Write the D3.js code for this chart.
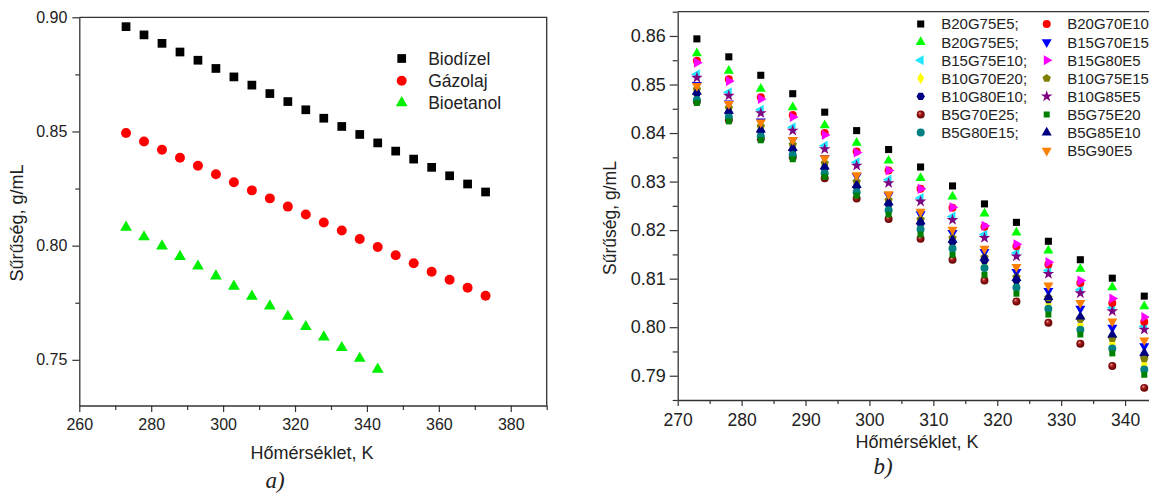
<!DOCTYPE html>
<html>
<head>
<meta charset="utf-8">
<script src="https://cdn.jsdelivr.net/npm/d3@7"></script>
<style>
body { margin: 0; background: #fff; }
text { font-family: "Liberation Sans", Arial, sans-serif; fill: #222; }
.domain { stroke: #333; stroke-width: 1.3; }
.tick line { stroke: #333; stroke-width: 1.2; }
.frame { fill: none; stroke: #333; stroke-width: 1.3; }
</style>
</head>
<body>
<svg id="chart" width="1149" height="493"></svg>
<script>
// ---- data, chart a) ----
const tempsA = [273, 278, 283, 288, 293, 298, 303, 308, 313, 318, 323, 328, 333, 338, 343, 348, 353, 358, 363, 368, 373];
const biodizel = [0.8959, 0.8923, 0.8886, 0.8848, 0.8812, 0.8776, 0.8739, 0.8703, 0.8666, 0.8631, 0.8595,
                  0.8558, 0.8522, 0.8487, 0.8450, 0.8414, 0.8379, 0.8343, 0.8306, 0.8270, 0.8235];
const gazolaj = [0.8493, 0.8456, 0.8420, 0.8385, 0.8350, 0.8313, 0.8278, 0.8242, 0.8207, 0.8171, 0.8136,
                 0.8101, 0.8066, 0.8029, 0.7994, 0.7958, 0.7923, 0.7886, 0.7851, 0.7816, 0.7781];
const bioetanol = [0.8080, 0.8038, 0.7998, 0.7952, 0.7910, 0.7867, 0.7822, 0.7778, 0.7735, 0.7690, 0.7645,
                   0.7600, 0.7553, 0.7506, 0.7458];
const seriesA = ["Biodízel", "Gázolaj", "Bioetanol"];
const xTicksA = [260, 280, 300, 320, 340, 360, 380];
const xMinorA = [270, 290, 310, 330, 350, 370, 390];
const yTicksA = [0.75, 0.80, 0.85, 0.90];
const yMinorA = [0.775, 0.825, 0.875];

// ---- data, chart b) ----
const tempsB = [273, 278, 283, 288, 293, 298, 303, 308, 313, 318, 323, 328, 333, 338, 343];
const seriesB = ["B20G75E5;", "B20G75E5;", "B15G75E10;", "B10G70E20;", "B10G80E10;", "B5G70E25;", "B5G80E15;",
                 "B20G70E10", "B15G70E15", "B15G80E5", "B10G75E15", "B10G85E5", "B5G75E20", "B5G85E10", "B5G90E5"];
const b20g75e5a = [0.8594, 0.8557, 0.8519, 0.8481, 0.8443, 0.8405, 0.8366, 0.8330, 0.8291, 0.8254, 0.8216, 0.8177, 0.8139, 0.8101, 0.8064];
const b20g75e5b = [0.8564, 0.8528, 0.8491, 0.8453, 0.8416, 0.8380, 0.8343, 0.8307, 0.8269, 0.8234, 0.8195, 0.8158, 0.8120, 0.8082, 0.8043];
const b15g75e10 = [0.8521, 0.8484, 0.8448, 0.8412, 0.8374, 0.8340, 0.8304, 0.8266, 0.8228, 0.8191, 0.8153, 0.8117, 0.8077, 0.8040, 0.8002];
const b10g70e20 = [0.8478, 0.8441, 0.8402, 0.8364, 0.8326, 0.8288, 0.8250, 0.8211, 0.8171, 0.8131, 0.8091, 0.8048, 0.8005, 0.7966, 0.7923];
const b10g80e10 = [0.8481, 0.8442, 0.8403, 0.8365, 0.8327, 0.8289, 0.8253, 0.8213, 0.8175, 0.8137, 0.8096, 0.8057, 0.8017, 0.7979, 0.7941];
const b5g70e25  = [0.8465, 0.8427, 0.8388, 0.8350, 0.8307, 0.8265, 0.8223, 0.8182, 0.8139, 0.8096, 0.8053, 0.8009, 0.7966, 0.7920, 0.7875];
const b5g80e15  = [0.8468, 0.8433, 0.8393, 0.8355, 0.8317, 0.8278, 0.8241, 0.8202, 0.8162, 0.8122, 0.8082, 0.8038, 0.7995, 0.7956, 0.7913];
const b20g70e10 = [0.8549, 0.8511, 0.8474, 0.8437, 0.8400, 0.8362, 0.8323, 0.8285, 0.8246, 0.8207, 0.8167, 0.8129, 0.8091, 0.8050, 0.8011];
const b15g70e15 = [0.8499, 0.8461, 0.8424, 0.8386, 0.8349, 0.8311, 0.8272, 0.8233, 0.8194, 0.8155, 0.8114, 0.8075, 0.8038, 0.7999, 0.7961];
const b15g80e5  = [0.8545, 0.8507, 0.8470, 0.8433, 0.8396, 0.8360, 0.8323, 0.8285, 0.8247, 0.8209, 0.8171, 0.8134, 0.8096, 0.8059, 0.8021];
const b10g75e15 = [0.8490, 0.8452, 0.8414, 0.8376, 0.8338, 0.8300, 0.8262, 0.8222, 0.8184, 0.8144, 0.8103, 0.8061, 0.8018, 0.7977, 0.7935];
const b10g85e5  = [0.8514, 0.8477, 0.8441, 0.8405, 0.8367, 0.8333, 0.8297, 0.8259, 0.8221, 0.8184, 0.8146, 0.8110, 0.8070, 0.8033, 0.7995];
const b5g75e20  = [0.8462, 0.8424, 0.8385, 0.8346, 0.8310, 0.8271, 0.8232, 0.8191, 0.8149, 0.8108, 0.8069, 0.8026, 0.7985, 0.7946, 0.7902];
const b5g85e10  = [0.8485, 0.8446, 0.8407, 0.8369, 0.8331, 0.8293, 0.8257, 0.8218, 0.8180, 0.8143, 0.8101, 0.8062, 0.8022, 0.7985, 0.7947];
const b5g90e5   = [0.8497, 0.8460, 0.8422, 0.8386, 0.8348, 0.8313, 0.8274, 0.8238, 0.8201, 0.8162, 0.8124, 0.8086, 0.8050, 0.8012, 0.7973];
const valuesB = [b20g75e5a, b20g75e5b, b15g75e10, b10g70e20, b10g80e10, b5g70e25, b5g80e15,
                 b20g70e10, b15g70e15, b15g80e5, b10g75e15, b10g85e5, b5g75e20, b5g85e10, b5g90e5];
const xTicksB = [270, 280, 290, 300, 310, 320, 330, 340];
const xMinorB = [275, 285, 295, 305, 315, 325, 335, 345];
const yTicksB = [0.79, 0.80, 0.81, 0.82, 0.83, 0.84, 0.85, 0.86];
const yMinorB = [0.785, 0.795, 0.805, 0.815, 0.825, 0.835, 0.845, 0.855, 0.865];

// regular polygon symbols, rotation in degrees (-90 = point up)
function poly(n, rot) {
  return {
    draw(ctx, size) {
      const r = Math.sqrt(2 * size / (n * Math.sin(2 * Math.PI / n)));
      for (let k = 0; k < n; k++) {
        const a = (rot + k * 360 / n) * Math.PI / 180;
        if (k === 0) ctx.moveTo(r * Math.cos(a), r * Math.sin(a));
        else ctx.lineTo(r * Math.cos(a), r * Math.sin(a));
      }
      ctx.closePath();
    }
  };
}
const triUp = poly(3, -90), triDown = poly(3, 90), triLeft = poly(3, 180), triRight = poly(3, 0);

const styleA = [
  { type: d3.symbolSquare, size: 76, fill: "#000" },
  { type: d3.symbolCircle, size: 78, fill: "#ff0000" },
  { type: triUp, size: 60, fill: "#00ee00" }
];
const styleB = [
  { type: d3.symbolSquare, size: 50, fill: "#000" },
  { type: triUp, size: 44, fill: "#00ff00" },
  { type: triLeft, size: 44, fill: "#22e6ff" },
  { type: d3.symbolDiamond, size: 40, fill: "#ffff00" },
  { type: poly(6, 0), size: 46, fill: "#000080" },
  { type: d3.symbolCircle, size: 50, fill: "url(#sphere)" },
  { type: d3.symbolCircle, size: 50, fill: "#008080" },
  { type: d3.symbolCircle, size: 50, fill: "#ff0000" },
  { type: triDown, size: 44, fill: "#0000ff" },
  { type: triRight, size: 44, fill: "#ff00ff" },
  { type: poly(5, -90), size: 46, fill: "#808000" },
  { type: d3.symbolStar, size: 42, fill: "#800080" },
  { type: d3.symbolSquare, size: 36, fill: "#008000" },
  { type: triUp, size: 44, fill: "#000080" },
  { type: triDown, size: 44, fill: "#ff8000" }
];

const svg = d3.select("#chart");
svg.append("rect").attr("width", 1149).attr("height", 493).attr("fill", "#fff");

const grad = svg.append("defs").append("radialGradient")
    .attr("id", "sphere").attr("cx", "50%").attr("cy", "50%").attr("r", "55%")
    .attr("fx", "35%").attr("fy", "30%");
grad.append("stop").attr("offset", "0%").attr("stop-color", "#f0a0a0");
grad.append("stop").attr("offset", "40%").attr("stop-color", "#a01818");
grad.append("stop").attr("offset", "100%").attr("stop-color", "#5a0000");

function axes(g, x, y, o) {
  const [x0, x1] = x.range(), [y0, y1] = y.range();
  const gx = g.append("g").attr("transform", `translate(0,${y0})`)
      .call(d3.axisBottom(x).tickValues(o.xTicks).tickFormat(d3.format("d"))
        .tickSize(o.xTick).tickSizeOuter(0).tickPadding(o.xPad));
  gx.selectAll("text").style("font-size", o.xFont + "px");
  g.append("g").attr("transform", `translate(0,${y0})`)
      .call(d3.axisBottom(x).tickValues(o.xMinor).tickFormat("").tickSize(o.xTick - 2).tickSizeOuter(0))
      .select(".domain").remove();
  const gy = g.append("g").attr("transform", `translate(${x0},0)`)
      .call(d3.axisLeft(y).tickValues(o.yTicks).tickFormat(d3.format(".2f"))
        .tickSize(o.yTick).tickSizeOuter(0).tickPadding(o.yPad));
  gy.selectAll("text").style("font-size", o.yFont + "px");
  g.append("g").attr("transform", `translate(${x0},0)`)
      .call(d3.axisLeft(y).tickValues(o.yMinor).tickFormat("").tickSize(o.yTick - 3).tickSizeOuter(0))
      .select(".domain").remove();
  // top / right frame lines
  g.append("path").attr("class", "frame").attr("d", `M${x0},${y1}H${x1}V${y0}`);
}

function marks(g, x, y, temps, vals, st) {
  g.append("g").selectAll("path").data(vals).join("path")
      .attr("transform", (v, i) => `translate(${x(temps[i])},${y(v)})`)
      .attr("d", d3.symbol(st.type, st.size))
      .attr("fill", st.fill);
}

// ---------- chart a) ----------
const xA = d3.scaleLinear().domain([260, 390]).range([79.3, 546.7]);
const yA = d3.scaleLinear().domain([0.73, 0.90]).range([405.5, 17.3]);
const gA = svg.append("g");
axes(gA, xA, yA, { xTicks: xTicksA, xMinor: xMinorA, yTicks: yTicksA, yMinor: yMinorA,
  xTick: 6.5, xPad: 7, xFont: 16, yTick: 7, yPad: 5, yFont: 16 });
[biodizel, gazolaj, bioetanol].forEach((vals, i) => marks(gA, xA, yA, tempsA, vals, styleA[i]));

const legA = gA.append("g").selectAll("g").data(seriesA).join("g")
    .attr("transform", (d, i) => `translate(401.7,${58.5 + i * 22.2})`);
legA.append("path").attr("d", (d, i) => d3.symbol(styleA[i].type, styleA[i].size)()).attr("fill", (d, i) => styleA[i].fill);
legA.append("text").attr("x", 26.5).attr("dy", "0.36em").style("font-size", "17.5px").text(d => d);

gA.append("text").attr("x", 312).attr("y", 459).attr("text-anchor", "middle").style("font-size", "18px").text("Hőmérséklet, K");
gA.append("text").attr("transform", "translate(23,223) rotate(-90)").attr("text-anchor", "middle")
    .style("font-size", "18px").text("Sűrűség, g/mL");
gA.append("text").attr("x", 275).attr("y", 488).attr("text-anchor", "middle")
    .style("font-family", "'Liberation Serif', 'Times New Roman', serif").style("font-style", "italic")
    .style("font-size", "23px").text("a)");

// ---------- chart b) ----------
const xB = d3.scaleLinear().domain([270, 350]).range([677.7, 1189]);
const yB = d3.scaleLinear().domain([0.785, 0.865]).range([400, 11.7]);
const gB = svg.append("g");
axes(gB, xB, yB, { xTicks: xTicksB, xMinor: xMinorB, yTicks: yTicksB, yMinor: yMinorB,
  xTick: 6, xPad: 8, xFont: 17.5, yTick: 8, yPad: 4, yFont: 18 });
valuesB.forEach((vals, i) => marks(gB, xB, yB, tempsB, vals, styleB[i]));

const legB = gB.append("g").selectAll("g").data(seriesB).join("g")
    .attr("transform", (d, i) => {
      const col = i < 7 ? 0 : 1, row = i < 7 ? i : i - 7;
      return `translate(${col ? 1046.7 : 920.7},${24 + row * 18.1})`;
    });
legB.append("path").attr("d", (d, i) => d3.symbol(styleB[i].type, styleB[i].size)()).attr("fill", (d, i) => styleB[i].fill);
legB.append("text").attr("x", 20.5).attr("dy", "0.36em").style("font-size", "15px").text(d => d);

gB.append("text").attr("x", 917).attr("y", 448).attr("text-anchor", "middle").style("font-size", "18px").text("Hőmérséklet, K");
gB.append("text").attr("transform", "translate(616,218) rotate(-90)").attr("text-anchor", "middle")
    .style("font-size", "17.5px").text("Sűrűség, g/mL");
gB.append("text").attr("x", 883).attr("y", 474).attr("text-anchor", "middle")
    .style("font-family", "'Liberation Serif', 'Times New Roman', serif").style("font-style", "italic")
    .style("font-size", "23px").text("b)");
</script>
</body>
</html>
